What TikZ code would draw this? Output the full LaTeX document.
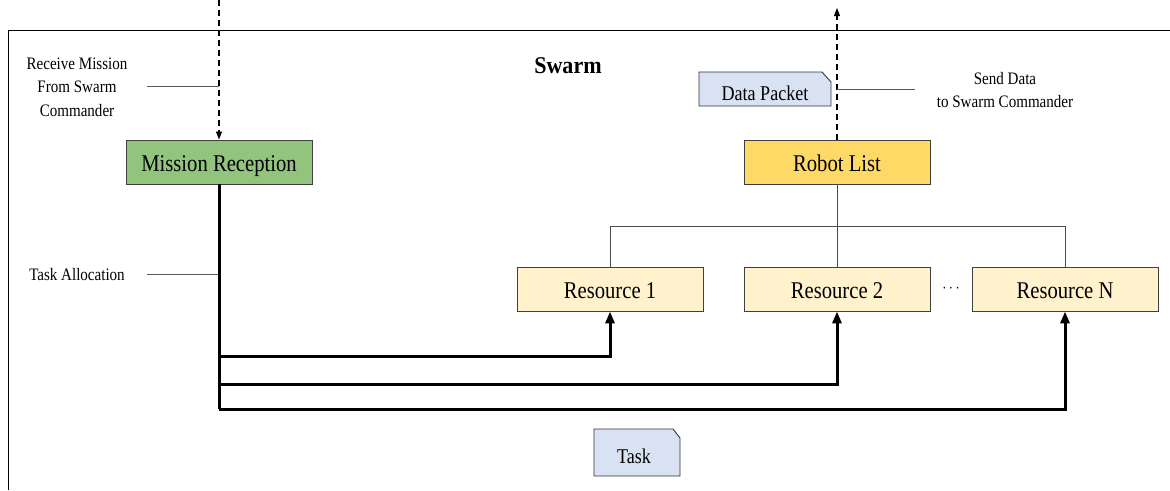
\documentclass[tikz,border=0pt]{standalone}
\usepackage{graphicx}
\usepackage{fontspec}
\setmainfont{Liberation Serif}
\usetikzlibrary{arrows.meta}
\definecolor{missiongreen}{HTML}{93C47D}
\definecolor{robotyellow}{HTML}{FFD966}
\definecolor{resyellow}{HTML}{FFF2CC}
\definecolor{packetblue}{HTML}{D9E2F3}
% narrow (condensed) setting of a label
\newcommand\narrowtext[1]{\scalebox{0.86}[1]{#1}}
\tikzset{
  box/.style={draw=black!75, line width=0.9pt, minimum width=186pt, minimum height=44pt,
    inner sep=0pt, text height=19pt, text depth=1pt, font=\fontsize{24}{26}\selectfont},
  note/.style={font=\fontsize{17.5}{23.5}\selectfont, align=center},
  leader/.style={draw=black!65, line width=0.8pt},
  flow/.style={line width=3pt, -{Triangle[length=12pt,width=9pt]}},
  dashflow/.style={line width=1.1pt, dash pattern=on 6pt off 4pt, -{Triangle[length=8pt,width=6pt]}},
  tree/.style={draw=black!70, line width=0.8pt}
}
\begin{document}
\begin{tikzpicture}[x=1pt,y=-1pt]
\useasboundingbox (0,0) rectangle (1170,490);
% swarm frame (open at right and bottom)
\draw[line width=1pt] (8,490) -- (8,30) -- (1170,30);
\node[font=\bfseries\fontsize{24}{26}\selectfont] (swarm) at (568,66) {\scalebox{0.92}[1]{Swarm}};

% main boxes
\node[box, fill=missiongreen] (mission) at (219,162) {\narrowtext{Mission Reception}};
\node[box, fill=robotyellow] (robots) at (837,162) {\narrowtext{Robot List}};
\node[box, fill=resyellow] (res1) at (610,289) {\narrowtext{Resource 1}};
\node[box, fill=resyellow] (res2) at (837,289) {\narrowtext{Resource 2}};
\node[box, fill=resyellow] (resN) at (1065,289) {\narrowtext{Resource N}};
\node[font=\fontsize{16}{18}\selectfont] (dots) at (951,289) {\narrowtext{$\cdots$}};

% message documents with a clipped corner
\draw[draw=black!80, line width=0.9pt, fill=packetblue]
  (699,106) -- (699,72) -- (822,72) -- (831,82) -- (831,106) -- cycle;
\node[font=\fontsize{21}{22}\selectfont] (packet) at (765,93) {\narrowtext{Data Packet}};
\draw[draw=black!80, line width=0.9pt, fill=packetblue]
  (594,476) -- (594,429) -- (673,429) -- (680,438) -- (680,476) -- cycle;
\node[font=\fontsize{21}{22}\selectfont] (task) at (634,456) {\narrowtext{Task}};

% incoming mission and outgoing data
\coordinate (cmdIn) at (219,0);
\coordinate (cmdOut) at (837,8);
\draw[dashflow] (cmdIn) -- (mission.north);
\draw[dashflow] (robots.north) -- (cmdOut);

% annotations
\node[note] (recvLbl) at (77,87) {\narrowtext{Receive Mission}\\\narrowtext{From Swarm}\\\narrowtext{Commander}};
\coordinate (recvTap) at (219,86);
\draw[leader] (147,86) -- (recvTap);
\node[note] (sendLbl) at (1005,90) {\narrowtext{Send Data}\\\narrowtext{to Swarm Commander}};
\coordinate (sendTap) at (837,89);
\draw[leader] (sendTap) -- (915,89);
\node[note] (allocLbl) at (77,275) {\narrowtext{Task Allocation}};
\coordinate (allocTap) at (219,274);
\draw[leader] (147,274) -- (allocTap);

% robot list tree
\coordinate (treeL) at (610,226);
\coordinate (treeR) at (1065,226);
\draw[tree] (robots.south) -- (res2.north);
\draw[tree] (res1.north) -- (treeL) -- (treeR) -- (resN.north);

% task allocation paths
\draw[line width=3pt] (mission.south) -- (219,409);
\draw[flow] (219,356) -| (res1.south);
\draw[flow] (219,384) -| (res2.south);
\draw[flow] (219,409) -| (resN.south);
\end{tikzpicture}
\end{document}
